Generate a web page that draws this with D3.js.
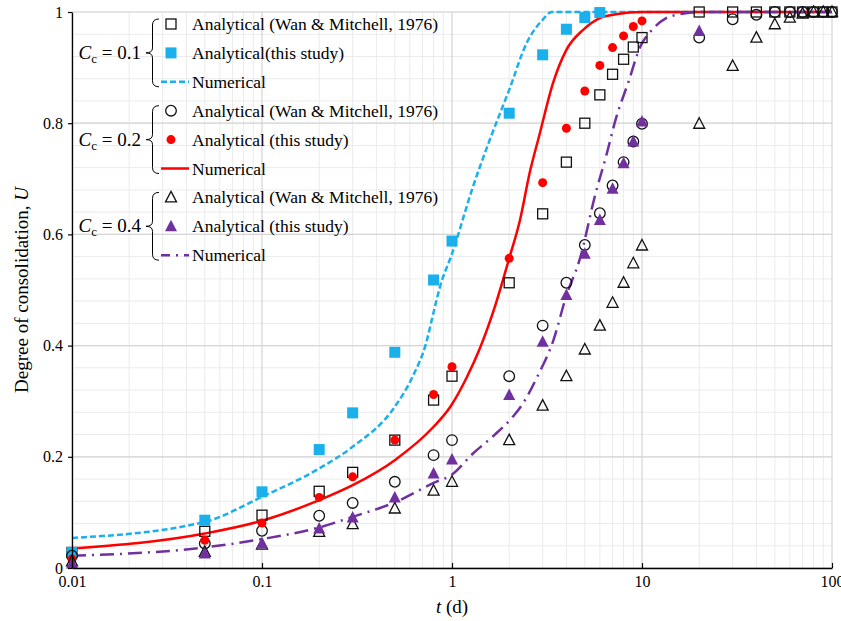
<!DOCTYPE html>
<html>
<head>
<meta charset="utf-8">
<script src="https://cdn.jsdelivr.net/npm/d3@7"></script>
<style>
  body { margin: 0; background: #fff; }
  svg text { font-family: "Liberation Serif", "Times New Roman", serif; }
</style>
</head>
<body>
<div id="chart"></div>
<script>
// time points (days)
const tWan = [0.01, 0.05, 0.1, 0.2, 0.3, 0.5, 0.8, 1, 2, 3, 4, 5, 6, 7, 8, 9, 10, 20, 30, 40, 50, 60, 70, 80, 90, 100];
const tStudy01 = [0.01, 0.05, 0.1, 0.2, 0.3, 0.5, 0.8, 1, 2, 3, 4, 5, 6];
const tStudy02 = [0.01, 0.05, 0.1, 0.2, 0.3, 0.5, 0.8, 1, 2, 3, 4, 5, 6, 7, 8, 9, 10];
const tStudy04 = [0.01, 0.05, 0.1, 0.2, 0.3, 0.5, 0.8, 1, 2, 3, 4, 5, 6, 7, 8, 9, 10, 20];

// Cc = 0.1
const wan01 = [0.028, 0.066, 0.095, 0.138, 0.172, 0.23, 0.302, 0.345, 0.513, 0.637, 0.73, 0.80, 0.851, 0.888, 0.915, 0.937, 0.954, 1, 1, 1, 1, 1, 1, 1, 1, 1];
const study01 = [0.028, 0.086, 0.137, 0.213, 0.279, 0.388, 0.518, 0.588, 0.818, 0.923, 0.969, 0.99, 0.999];
const numT01 = [0.01, 0.05, 0.1, 0.2, 0.3, 0.5, 0.62, 0.73, 0.8, 0.865, 1, 1.29, 1.58, 2, 2.47, 3, 3.35, 5, 100];
const numU01 = [0.054, 0.083, 0.128, 0.179, 0.218, 0.29, 0.344, 0.404, 0.46, 0.506, 0.565, 0.686, 0.77, 0.86, 0.944, 0.986, 1, 1, 1];

// Cc = 0.2
const wan02 = [0.022, 0.044, 0.067, 0.094, 0.117, 0.155, 0.203, 0.23, 0.345, 0.436, 0.513, 0.581, 0.638, 0.688, 0.73, 0.767, 0.799, 0.954, 0.987, 0.995, 1, 1, 1, 1, 1, 1];
const study02 = [0.016, 0.05, 0.081, 0.127, 0.164, 0.23, 0.312, 0.362, 0.557, 0.693, 0.791, 0.858, 0.904, 0.936, 0.957, 0.974, 0.984];
const numT02 = [0.01, 0.05, 0.1, 0.2, 0.3, 0.5, 0.8, 0.98, 1.2, 1.39, 1.67, 2, 2.28, 2.56, 2.9, 3.4, 4, 4.9, 6, 7.3, 10, 100];
const numU02 = [0.035, 0.062, 0.085, 0.122, 0.149, 0.194, 0.254, 0.29, 0.344, 0.392, 0.467, 0.557, 0.626, 0.71, 0.782, 0.872, 0.932, 0.968, 0.989, 0.996, 1, 1];

// Cc = 0.4
const wan04 = [0.012, 0.029, 0.042, 0.065, 0.079, 0.107, 0.139, 0.155, 0.23, 0.292, 0.345, 0.393, 0.436, 0.477, 0.513, 0.548, 0.58, 0.799, 0.903, 0.954, 0.978, 0.99, 0.997, 1, 1, 1];
const study04 = [0.008, 0.026, 0.044, 0.071, 0.091, 0.127, 0.17, 0.195, 0.311, 0.407, 0.491, 0.565, 0.626, 0.682, 0.728, 0.767, 0.803, 0.966];
const numT04 = [0.01, 0.05, 0.1, 0.2, 0.3, 0.5, 0.8, 1, 1.29, 1.67, 2.09, 2.3, 2.84, 3.42, 4, 4.7, 5.7, 6.5, 7.3, 8.5, 9.8, 11.3, 13.4, 15.8, 20, 100];
const numU04 = [0.022, 0.037, 0.052, 0.073, 0.092, 0.118, 0.153, 0.168, 0.206, 0.239, 0.272, 0.29, 0.347, 0.41, 0.49, 0.555, 0.674, 0.743, 0.809, 0.875, 0.938, 0.968, 0.989, 0.996, 1, 1];

const xTicks = [0.01, 0.1, 1, 10, 100];
const yTicks = [0, 0.2, 0.4, 0.6, 0.8, 1];
const groupLabels = ['0.1', '0.2', '0.4'];
const legendLabels = [
  'Analytical (Wan & Mitchell, 1976)', 'Analytical(this study)', 'Numerical',
  'Analytical (Wan & Mitchell, 1976)', 'Analytical (this study)', 'Numerical',
  'Analytical (Wan & Mitchell, 1976)', 'Analytical (this study)', 'Numerical'
];

const width = 841, height = 621;
const margin = { left: 72, right: 9, top: 12, bottom: 53 };
const serif = '"Liberation Serif", "Times New Roman", serif';

const colors = { blue: '#1ab0ec', red: '#ff0000', purple: '#7030a0' };

const svg = d3.select('#chart').append('svg')
  .attr('width', width)
  .attr('height', height)
  .attr('font-family', serif);

const x = d3.scaleLog().domain([0.01, 100]).range([margin.left, width - margin.right]);
const y = d3.scaleLinear().domain([0, 1]).range([height - margin.bottom, margin.top]);

// grid
const minorX = [];
for (let d = 0.01; d < 100; d *= 10) {
  for (let k = 2; k <= 9; k++) minorX.push(+(d * k).toPrecision(3));
}
const minorY = d3.range(0, 1.001, 0.04).map(v => +v.toFixed(2));

const grid = svg.append('g');
grid.selectAll('.mx').data(minorX).join('line')
  .attr('x1', d => x(d)).attr('x2', d => x(d))
  .attr('y1', y(0)).attr('y2', y(1))
  .attr('stroke', '#ebebeb').attr('stroke-width', 1);
grid.selectAll('.my').data(minorY).join('line')
  .attr('x1', x(0.01)).attr('x2', x(100))
  .attr('y1', d => y(d)).attr('y2', d => y(d))
  .attr('stroke', '#ebebeb').attr('stroke-width', 1);
grid.selectAll('.Mx').data(xTicks).join('line')
  .attr('x1', d => x(d)).attr('x2', d => x(d))
  .attr('y1', y(0)).attr('y2', y(1))
  .attr('stroke', '#d4d4d4').attr('stroke-width', 1.2);
grid.selectAll('.My').data(yTicks).join('line')
  .attr('x1', x(0.01)).attr('x2', x(100))
  .attr('y1', d => y(d)).attr('y2', d => y(d))
  .attr('stroke', '#d4d4d4').attr('stroke-width', 1.2);

// curves
const line = d3.line()
  .x(d => x(d[0]))
  .y(d => y(d[1]))
  .curve(d3.curveMonotoneX);

const curves = [
  { t: numT01, u: numU01, color: colors.blue, dash: '6,3' },
  { t: numT02, u: numU02, color: colors.red, dash: null },
  { t: numT04, u: numU04, color: colors.purple, dash: '14,6,2,6' }
];

svg.append('g').selectAll('path').data(curves).join('path')
  .attr('d', c => line(c.t.map((t, i) => [t, c.u[i]])))
  .attr('fill', 'none')
  .attr('stroke', c => c.color)
  .attr('stroke-width', 2.5)
  .attr('stroke-dasharray', c => c.dash);

// marker symbols
function drawMarker(g, type, cx, cy) {
  if (type === 'openSquare') {
    g.append('rect').attr('x', cx - 5).attr('y', cy - 5).attr('width', 10).attr('height', 10)
      .attr('fill', 'none').attr('stroke', '#111').attr('stroke-width', 1.3);
  } else if (type === 'blueSquare') {
    g.append('rect').attr('x', cx - 5.5).attr('y', cy - 5.5).attr('width', 11).attr('height', 11)
      .attr('fill', colors.blue);
  } else if (type === 'openCircle') {
    g.append('circle').attr('cx', cx).attr('cy', cy).attr('r', 5.3)
      .attr('fill', 'none').attr('stroke', '#111').attr('stroke-width', 1.3);
  } else if (type === 'redDot') {
    g.append('circle').attr('cx', cx).attr('cy', cy).attr('r', 4.5).attr('fill', colors.red);
  } else if (type === 'openTri') {
    g.append('path').attr('d', `M${cx},${cy - 6}L${cx + 5.5},${cy + 4.5}L${cx - 5.5},${cy + 4.5}Z`)
      .attr('fill', 'none').attr('stroke', '#111').attr('stroke-width', 1.3);
  } else if (type === 'purpleTri') {
    g.append('path').attr('d', `M${cx},${cy - 6.5}L${cx + 6},${cy + 5}L${cx - 6},${cy + 5}Z`)
      .attr('fill', colors.purple);
  }
}

const pointSeries = [
  { t: tWan, u: wan01, type: 'openSquare' },
  { t: tStudy01, u: study01, type: 'blueSquare' },
  { t: tWan, u: wan02, type: 'openCircle' },
  { t: tStudy02, u: study02, type: 'redDot' },
  { t: tWan, u: wan04, type: 'openTri' },
  { t: tStudy04, u: study04, type: 'purpleTri' }
];

const pts = svg.append('g');
pointSeries.forEach(s => {
  s.t.forEach((t, i) => drawMarker(pts, s.type, x(t), y(s.u[i])));
});

// axes
const xAxis = d3.axisBottom(x)
  .tickValues(xTicks)
  .tickFormat(d => String(d))
  .tickSizeInner(-5)
  .tickSizeOuter(0)
  .tickPadding(8);

const yAxis = d3.axisLeft(y)
  .tickValues(yTicks)
  .tickFormat(d => String(d))
  .tickSizeInner(4)
  .tickSizeOuter(0)
  .tickPadding(5);

const gx = svg.append('g').attr('transform', `translate(0,${y(0)})`).call(xAxis);
const gy = svg.append('g').attr('transform', `translate(${x(0.01)},0)`).call(yAxis);

[gx, gy].forEach(g => {
  g.attr('font-family', serif).attr('font-size', 16);
  g.select('.domain').attr('stroke', '#000').attr('stroke-width', 1.3);
  g.selectAll('.tick line').attr('stroke', '#000').attr('stroke-width', 1.2);
  g.selectAll('.tick text').attr('fill', '#000');
});

// axis titles
const xt = svg.append('text')
  .attr('x', x(1))
  .attr('y', 613)
  .attr('text-anchor', 'middle')
  .attr('font-size', 19);
xt.append('tspan').attr('font-style', 'italic').text('t');
xt.append('tspan').text(' (d)');

const yt = svg.append('text')
  .attr('transform', `translate(28,${y(0.5)}) rotate(-90)`)
  .attr('text-anchor', 'middle')
  .attr('font-size', 19);
yt.append('tspan').text('Degree of consolidation, ');
yt.append('tspan').attr('font-style', 'italic').text('U');

// legend
const legend = svg.append('g');
const rowY0 = 24, rowStep = 28.9;
const markerX = 171, textX = 192;
const legendTypes = ['openSquare', 'blueSquare', 'line', 'openCircle', 'redDot', 'line', 'openTri', 'purpleTri', 'line'];

legendLabels.forEach((label, i) => {
  const cy = rowY0 + i * rowStep;
  if (legendTypes[i] === 'line') {
    const c = curves[Math.floor(i / 3)];
    legend.append('line')
      .attr('x1', 161).attr('x2', 189)
      .attr('y1', cy).attr('y2', cy)
      .attr('stroke', c.color)
      .attr('stroke-width', 2.5)
      .attr('stroke-dasharray', i === 8 ? '9,6,2,6' : c.dash);
  } else {
    drawMarker(legend, legendTypes[i], markerX, cy);
  }
  legend.append('text')
    .attr('x', textX)
    .attr('y', cy + 6)
    .attr('font-size', 17.5)
    .text(label);
});

// braces and Cc labels
function bracePath(xTip, xEnd, y1, y2) {
  const ym = (y1 + y2) / 2;
  const xm = (xTip + xEnd) / 2;
  return `M${xEnd},${y1} Q${xm},${y1} ${xm},${y1 + 6} L${xm},${ym - 5} Q${xm},${ym} ${xTip},${ym}`
    + ` Q${xm},${ym} ${xm},${ym + 5} L${xm},${y2 - 6} Q${xm},${y2} ${xEnd},${y2}`;
}

groupLabels.forEach((g, i) => {
  const top = rowY0 + i * 3 * rowStep - 5;
  const bottom = rowY0 + (i * 3 + 2) * rowStep + 5;
  legend.append('path')
    .attr('d', bracePath(146, 159, top, bottom))
    .attr('fill', 'none')
    .attr('stroke', '#000')
    .attr('stroke-width', 1);
  const t = legend.append('text')
    .attr('x', 141)
    .attr('y', (top + bottom) / 2 + 6)
    .attr('text-anchor', 'end')
    .attr('font-size', 19);
  t.append('tspan').attr('font-style', 'italic').text('C');
  t.append('tspan').attr('font-size', 13).attr('dy', 4).text('c');
  t.append('tspan').attr('dy', -4).text(' = ' + g);
});
</script>
</body>
</html>
